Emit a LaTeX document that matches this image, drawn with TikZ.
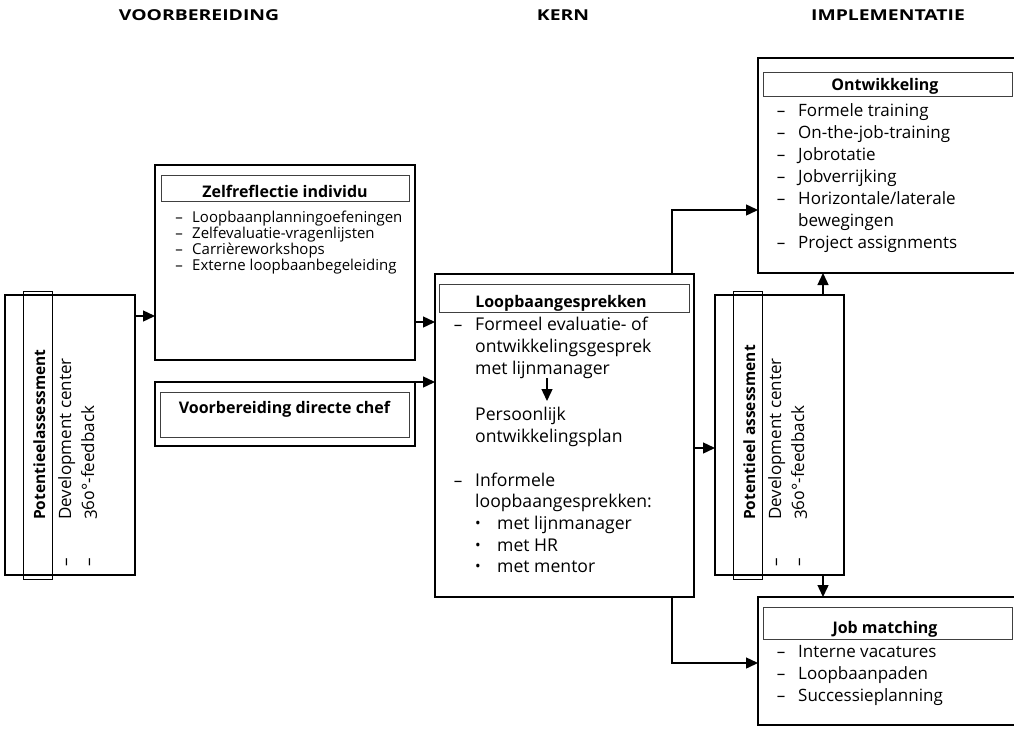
\documentclass[tikz,border=0pt]{standalone}
\usepackage{fontspec}
\setmainfont{Open Sans}
\newfontfamily\onum[Numbers=OldStyle]{Open Sans}
\usetikzlibrary{arrows.meta}
\begin{document}
\begin{tikzpicture}[x=1pt,y=-1pt,
  box/.style={draw, line width=1.5pt, inner sep=0pt, outer sep=0pt, anchor=north west},
  tbox/.style={draw=black!75, line width=0.9pt, inner sep=0pt, outer sep=0pt, anchor=north west},
  nbox/.style={draw, line width=0.8pt, inner sep=0pt, outer sep=0pt, anchor=north west},
  arr/.style={-{Triangle[length=12pt,width=11pt]}, line width=1.4pt},
  hdr/.style={inner sep=0pt, anchor=base, font=\fontsize{15}{18}\selectfont\bfseries},
  ttl/.style={inner sep=0pt, anchor=base, font=\fontsize{16}{20}\selectfont\bfseries},
  body/.style={inner sep=0pt, anchor=base west, font=\fontsize{17}{22}\selectfont},
  bodyc/.style={inner sep=0pt, anchor=base, font=\fontsize{17}{22}\selectfont},
  bodyl/.style={inner sep=0pt, anchor=base west, font=\fontsize{17.6}{22}\selectfont},
  small/.style={inner sep=0pt, anchor=base west, font=\fontsize{15}{16}\selectfont},
  smallc/.style={inner sep=0pt, anchor=base, font=\fontsize{15}{16}\selectfont},
  rot/.style={inner sep=0pt, rotate=90, anchor=base west, font=\fontsize{17}{22}\selectfont},
  rotb/.style={inner sep=0pt, rotate=90, anchor=base west, font=\fontsize{15.5}{20}\selectfont\bfseries},
  rotd/.style={inner sep=0pt, rotate=90, anchor=base, font=\fontsize{17}{22}\selectfont}
]
\useasboundingbox (0,0) rectangle (1014,728);

% headers
\node[hdr] (h1) at (199,20) {\scalebox{1.29}[1]{VOORBEREIDING}};
\node[hdr] (h2) at (563,20) {\scalebox{1.29}[1]{KERN}};
\node[hdr] (h3) at (888,20) {\scalebox{1.29}[1]{IMPLEMENTATIE}};

% left potentieel assessment
\node[box, minimum width=130pt, minimum height=280pt] (potL) at (5,295) {};
\node[nbox, minimum width=29pt, minimum height=288pt] (potLn) at (23,291) {};
\node[rotb] (potL1) at (45,520) {Potentieelassessment};
\node[rot] (potL2) at (71,520) {Development center};
\node[rot] (potL3) at (94,520) {{\onum 360}°-feedback};
\node[rotd] (potLd2) at (71,562) {–};
\node[rotd] (potLd3) at (94,562) {–};

% zelfreflectie
\node[box, minimum width=260pt, minimum height=195pt] (zelf) at (155,165) {};
\node[tbox, minimum width=248pt, minimum height=26pt] (zelfT) at (161,175) {};
\node[ttl] (zelfTt) at (285,197) {Zelfreflectie individu};
\foreach \t [count=\i] in {Loopbaanplanningoefeningen, Zelfevaluatie-vragenlijsten, Carrièreworkshops, Externe loopbaanbegeleiding} {
  \node[smallc] (zd\i) at (179,206+16*\i) {–};
  \node[small] (zi\i) at (192,206+16*\i) {\t};
}

% voorbereiding directe chef
\node[box, minimum width=260pt, minimum height=64pt] (voor) at (155,382) {};
\node[tbox, minimum width=249pt, minimum height=45pt] (voorT) at (160,392) {};
\node[ttl] (voorTt) at (284.5,413) {Voorbereiding directe chef};

% loopbaangesprekken
\node[box, minimum width=259pt, minimum height=323pt] (loop) at (435,274) {};
\node[tbox, minimum width=250pt, minimum height=28pt] (loopT) at (439,284) {};
\node[ttl] (loopTt) at (561,307) {Loopbaangesprekken};
\node[bodyc] (ld1) at (458,330) {–};
\node[bodyl] (l1) at (475,330) {Formeel evaluatie- of};
\node[bodyl] (l2) at (475,352) {ontwikkelingsgesprek};
\node[bodyl] (l3) at (475,374) {met lijnmanager};
\coordinate (da) at (547,378);
\coordinate (db) at (547,401);
\node[bodyl] (l4) at (475,420) {Persoonlijk};
\node[bodyl] (l5) at (475,442) {ontwikkelingsplan};
\node[bodyc] (ld2) at (458,486) {–};
\node[bodyl] (l6) at (475,486) {Informele};
\node[bodyl] (l7) at (475,507) {loopbaangesprekken:};
\foreach \t/\yy [count=\i] in {met lijnmanager/529, met HR/551, met mentor/572} {
  \node[inner sep=0pt, anchor=base, font=\fontsize{15}{16}\selectfont] (lb\i) at (478,\yy-1) {•};
  \node[bodyl] (lm\i) at (497,\yy) {\t};
}

% right potentieel assessment
\node[box, minimum width=129pt, minimum height=280pt] (potR) at (715,295) {};
\node[nbox, minimum width=29pt, minimum height=288pt] (potRn) at (733,291) {};
\node[rotb] (potR1) at (755,520) {Potentieel assessment};
\node[rot] (potR2) at (781,520) {Development center};
\node[rot] (potR3) at (804,520) {{\onum 360}°-feedback};
\node[rotd] (potRd2) at (781,562) {–};
\node[rotd] (potRd3) at (804,562) {–};

% ontwikkeling
\node[box, minimum width=260pt, minimum height=215pt] (ontw) at (758,58) {};
\node[tbox, minimum width=249pt, minimum height=24pt] (ontwT) at (763,72) {};
\node[ttl] (ontwTt) at (885,90) {Ontwikkeling};
\foreach \t/\d [count=\i] in {Formele training/1, On-the-job-training/1, Jobrotatie/1, Jobverrijking/1, Horizontale\slash laterale/1, bewegingen/0, Project assignments/1} {
  \ifnum\d=1 \node[bodyc] (od\i) at (781,94+22*\i) {–};\fi
  \node[body] (oi\i) at (798,94+22*\i) {\t};
}

% job matching
\node[box, minimum width=260pt, minimum height=128pt] (job) at (758,597) {};
\node[tbox, minimum width=249pt, minimum height=32pt] (jobT) at (763,607) {};
\node[ttl] (jobTt) at (885,633) {Job matching};
\foreach \t [count=\i] in {Interne vacatures, Loopbaanpaden, Successieplanning} {
  \node[bodyc] (jd\i) at (781,635+22*\i) {–};
  \node[body] (ji\i) at (798,635+22*\i) {\t};
}

% connectors
\coordinate (ya) at (0,316);
\coordinate (yb) at (0,322);
\coordinate (yd) at (0,448);
\coordinate (ye) at (0,210);
\coordinate (yf) at (0,663);
\coordinate (xa) at (672,0);
\coordinate (xb) at (823,0);
\draw[arr] (potL.east |- ya) -- (zelf.west |- ya);
\draw[arr] (zelf.east |- yb) -- (loop.west |- yb);
\draw[arr] (voor.north east) -- (loop.west |- voor.north east);
\draw[arr] (loop.east |- yd) -- (potR.west |- yd);
\draw[arr] (loop.north -| xa) |- (ontw.west |- ye);
\draw[arr] (loop.south -| xa) |- (job.west |- yf);
\draw[arr] (potR.north -| xb) -- (ontw.south -| xb);
\draw[arr] (potR.south -| xb) -- (job.north -| xb);
\draw[arr] (da) -- (db);
\end{tikzpicture}
\end{document}
